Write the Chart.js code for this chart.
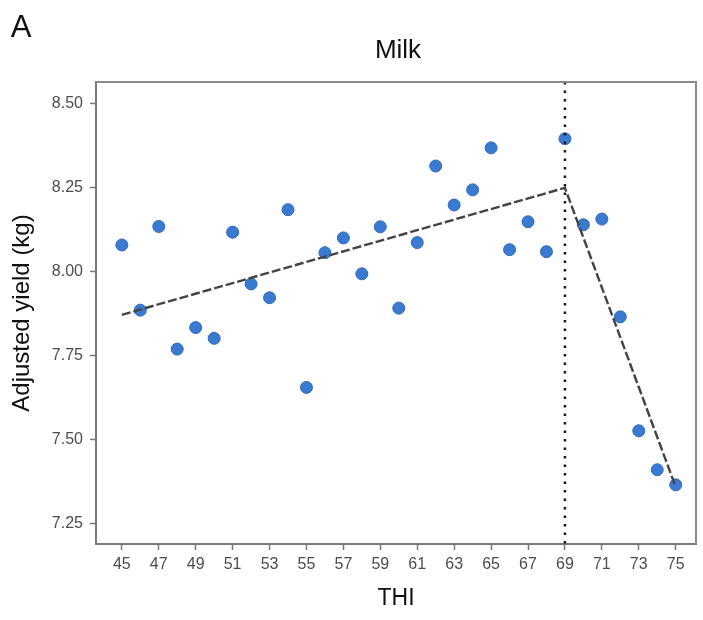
<!DOCTYPE html>
<html>
<head>
<meta charset="utf-8">
<script src="https://cdn.jsdelivr.net/npm/chart.js@4/dist/chart.umd.min.js"></script>
<style>
  html, body { margin: 0; padding: 0; background: #ffffff; }
  #wrap { width: 703px; height: 620px; }
</style>
</head>
<body>
<div id="wrap"><canvas id="c" width="703" height="620"></canvas></div>
<script>
// ---- data ----
const panelLabel = 'A';
const chartTitle = 'Milk';
const xTitle = 'THI';
const yTitle = 'Adjusted yield (kg)';

const thi = [45, 46, 47, 48, 49, 50, 51, 52, 53, 54, 55, 56, 57, 58, 59, 60,
             61, 62, 63, 64, 65, 66, 67, 68, 69, 70, 71, 72, 73, 74, 75];
const adjYield = [8.080, 7.886, 8.135, 7.770, 7.834, 7.802, 8.118, 7.964, 7.923, 8.185, 7.656,
                  8.057, 8.101, 7.994, 8.134, 7.892, 8.087, 8.315, 8.199, 8.244, 8.369,
                  8.066, 8.149, 8.060, 8.396, 8.140, 8.157, 7.866, 7.527, 7.411, 7.366];

const fitX = [45, 69, 75];
const fitY = [7.872, 8.250, 7.360];
const breakpoint = 69;

const xTicks = [45, 47, 49, 51, 53, 55, 57, 59, 61, 63, 65, 67, 69, 71, 73, 75];
const yTicks = [7.25, 7.50, 7.75, 8.00, 8.25, 8.50];

const FONT = '"Liberation Sans", Arial, sans-serif';

// ---- plugins ----
const frameAndMarks = {
  id: 'frameAndMarks',
  afterDatasetsDraw(chart) {
    const { ctx, chartArea, scales } = chart;
    ctx.save();
    // vertical dotted breakpoint line
    const xb = scales.x.getPixelForValue(breakpoint);
    ctx.strokeStyle = '#1a1a1a';
    ctx.lineWidth = 2.5;
    ctx.setLineDash([2.5, 6]);
    ctx.beginPath();
    ctx.moveTo(xb, chartArea.top);
    ctx.lineTo(xb, chartArea.bottom);
    ctx.stroke();
    ctx.setLineDash([]);
    // top and right frame
    ctx.strokeStyle = '#8a8a8a';
    ctx.lineWidth = 2;
    ctx.beginPath();
    ctx.moveTo(chartArea.left, chartArea.top);
    ctx.lineTo(chartArea.right, chartArea.top);
    ctx.lineTo(chartArea.right, chartArea.bottom);
    ctx.stroke();
    ctx.restore();
  },
  afterDraw(chart) {
    const { ctx, chartArea } = chart;
    ctx.save();
    ctx.fillStyle = '#111111';
    ctx.textAlign = 'center';
    ctx.textBaseline = 'middle';
    ctx.font = '31px ' + FONT;
    ctx.fillText(panelLabel, 21, 28);
    ctx.font = '26px ' + FONT;
    ctx.fillText(chartTitle, (chartArea.left + chartArea.right) / 2 + 2, 51);
    ctx.restore();
  }
};

const tickFont = { family: FONT, size: 16 };

new Chart(document.getElementById('c'), {
  data: {
    datasets: [
      {
        type: 'line',
        label: 'fit',
        data: fitX.map((x, i) => ({ x, y: fitY[i] })),
        borderColor: '#444444',
        borderWidth: 2.4,
        borderDash: [9, 3],
        pointRadius: 0,
        fill: false,
        tension: 0,
        order: 0
      },
      {
        type: 'scatter',
        label: 'yield',
        data: thi.map((x, i) => ({ x, y: adjYield[i] })),
        backgroundColor: '#3a7ad0',
        borderColor: '#2f6abb',
        borderWidth: 1,
        pointRadius: 6,
        order: 1
      }
    ]
  },
  options: {
    responsive: false,
    devicePixelRatio: 1,
    animation: false,
    layout: { padding: { top: 82, right: 5, bottom: 0, left: 0 } },
    plugins: {
      legend: { display: false },
      tooltip: { enabled: false },
      title: { display: false }
    },
    scales: {
      x: {
        type: 'linear',
        min: 43.6,
        max: 76.1,
        afterBuildTicks(scale) { scale.ticks = xTicks.map(v => ({ value: v })); },
        afterFit(scale) { scale.height = 76; },
        ticks: {
          color: '#4d4d4d',
          font: tickFont,
          padding: 5,
          maxRotation: 0,
          autoSkip: false,
          callback: v => String(v)
        },
        grid: {
          drawOnChartArea: false,
          drawTicks: true,
          tickLength: 6,
          tickColor: '#777777',
          tickWidth: 1.5
        },
        border: { display: true, color: '#7a7a7a', width: 2 },
        title: {
          display: true,
          text: xTitle,
          color: '#111111',
          font: { family: FONT, size: 23 },
          padding: { top: 0, bottom: 8 }
        }
      },
      y: {
        type: 'linear',
        min: 7.19,
        max: 8.565,
        afterBuildTicks(scale) { scale.ticks = yTicks.map(v => ({ value: v })); },
        afterFit(scale) { scale.width = 96; },
        ticks: {
          color: '#4d4d4d',
          font: tickFont,
          padding: 7,
          autoSkip: false,
          callback: v => Number(v).toFixed(2)
        },
        grid: {
          drawOnChartArea: false,
          drawTicks: true,
          tickLength: 6,
          tickColor: '#777777',
          tickWidth: 1.5
        },
        border: { display: true, color: '#7a7a7a', width: 2 },
        title: {
          display: true,
          text: yTitle,
          color: '#111111',
          font: { family: FONT, size: 24 },
          padding: { top: 8, bottom: 0 }
        }
      }
    }
  },
  plugins: [frameAndMarks]
});
</script>
</body>
</html>
